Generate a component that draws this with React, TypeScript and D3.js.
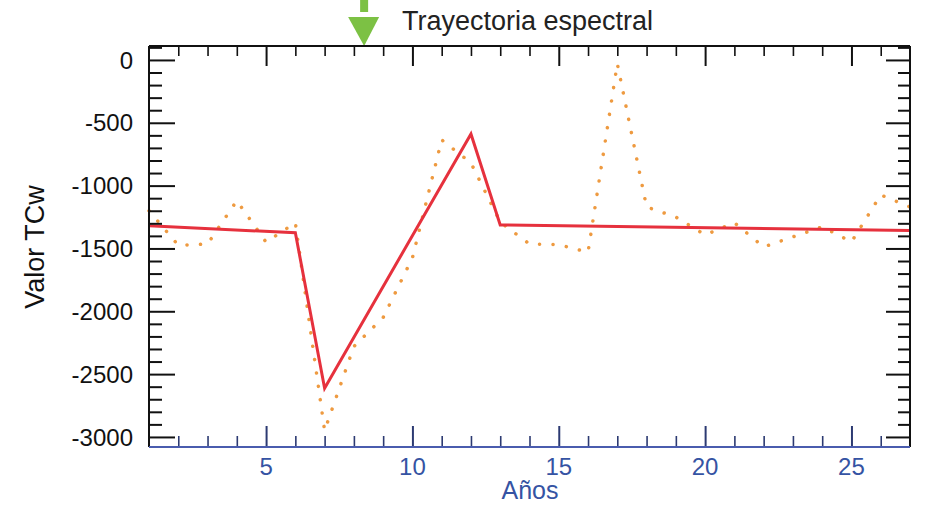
import * as d3 from "d3";
import { useEffect, useRef } from "react";

// yearly TCw values (dotted orange) and the fitted segments (red)
const years = [1, 2, 3, 4, 5, 6, 7, 8, 9, 10, 11, 12, 13, 14, 15, 16, 17, 18, 19, 20, 21, 22, 23, 24, 25, 26, 27];
const tcwYearly = [
  -1200, -1475, -1465, -1120, -1450, -1295, -2950, -2280, -2050, -1575, -636, -820, -1290,
  -1465, -1470, -1530, -30, -1170, -1250, -1392, -1295, -1488, -1408, -1328, -1448, -1074, -1170,
];
const fitYears = [1, 6, 7, 12, 13, 27];
const fitValues = [-1320, -1375, -2612, -589, -1313, -1358];

const xTickLabels = [5, 10, 15, 20, 25];
const yTickLabels = [0, -500, -1000, -1500, -2000, -2500, -3000];
const arrowYear = 8.35;

const W = 925;
const H = 506;
const left = 149;
const right = 910;
const top = 46;
const bottom = 447;

const blue = "#3553a3";
const navy = "#2c3a72";

export default function App() {
  const leftRef = useRef<SVGGElement>(null);
  const rightRef = useRef<SVGGElement>(null);
  const topRef = useRef<SVGGElement>(null);
  const bottomRef = useRef<SVGGElement>(null);

  const x = d3.scaleLinear([1, 27], [left, right]);
  const y = d3.scaleLinear([-3080, 111], [bottom, top]);

  const yMinor = d3.range(-3000, 101, 100).filter((v) => v % 500 !== 0);
  const xMinor = d3.range(2, 27).filter((v) => v % 5 !== 0);

  useEffect(() => {
    // draw a set of ticks with a d3 axis, no labels, no domain line
    function ticks(ref, axis, values, size, color, width) {
      const g = d3.select(ref.current);
      const sub = g.append("g");
      sub.call(axis.tickValues(values).tickSize(size).tickFormat(() => ""));
      sub.select(".domain").remove();
      sub.selectAll("line").attr("stroke", color).attr("stroke-width", width);
    }
    [leftRef, rightRef, topRef, bottomRef].forEach((r) => d3.select(r.current).selectAll("*").remove());

    ticks(leftRef, d3.axisRight(y), yTickLabels, 26, "#111", 2);
    ticks(leftRef, d3.axisRight(y), yMinor, 13, "#111", 2);
    ticks(rightRef, d3.axisLeft(y), yTickLabels, 24, "#111", 2);
    ticks(rightRef, d3.axisLeft(y), yMinor, 12, "#111", 2);
    ticks(topRef, d3.axisBottom(x), xTickLabels, 20, "#111", 2);
    ticks(topRef, d3.axisBottom(x), xMinor, 10, "#111", 1.6);
    ticks(bottomRef, d3.axisTop(x), xTickLabels, 21, navy, 2);
    ticks(bottomRef, d3.axisTop(x), xMinor, 11, navy, 1.6);
  }, []);

  const line = d3.line<number>().x((d, i) => x(years[i])).y((d) => y(d));
  const fitLine = d3.line<number>().x((d, i) => x(fitYears[i])).y((d) => y(d));

  const ax = x(arrowYear);

  return (
    <svg
      width={W}
      height={H}
      style={{ position: "absolute", left: 0, top: 0, background: "#fff" }}
      fontFamily="'Liberation Sans', Arial, sans-serif"
    >
      {/* title + green arrow */}
      <rect x={ax - 4} y={0} width={8} height={12} fill="#7cc144" />
      <path d={`M${ax - 16},17 L${ax + 15},17 L${ax},46 Z`} fill="#7cc144" />
      <text x={402} y={30} fontSize={27} fill="#222">Trayectoria espectral</text>

      {/* data */}
      <path
        d={line(tcwYearly)!}
        fill="none"
        stroke="#ee9a40"
        strokeWidth={3.5}
        strokeDasharray="0.1 13.4"
        strokeLinecap="round"
      />
      <path d={fitLine(fitValues)!} fill="none" stroke="#e6313d" strokeWidth={3} strokeLinejoin="miter" />

      {/* ticks */}
      <g ref={leftRef} transform={`translate(${left},0)`} />
      <g ref={rightRef} transform={`translate(${right},0)`} />
      <g ref={topRef} transform={`translate(0,${top})`} />
      <g ref={bottomRef} transform={`translate(0,${bottom})`} />

      {/* frame */}
      <line x1={left} x2={left} y1={top} y2={bottom} stroke="#111" strokeWidth={2} />
      <line x1={right} x2={right} y1={top} y2={bottom} stroke="#111" strokeWidth={2} />
      <line x1={left} x2={right} y1={top} y2={top} stroke="#111" strokeWidth={2} />
      <line x1={left} x2={right} y1={bottom} y2={bottom} stroke="#4a5cae" strokeWidth={2} />

      {/* tick labels */}
      {yTickLabels.map((v) => (
        <text key={v} x={133} y={y(v)} dy="0.36em" textAnchor="end" fontSize={24} fill="#111">
          {v}
        </text>
      ))}
      {xTickLabels.map((v) => (
        <text key={v} x={x(v)} y={475} textAnchor="middle" fontSize={24} fill={blue}>
          {v}
        </text>
      ))}

      {/* axis titles */}
      <text transform="translate(44,247) rotate(-90)" textAnchor="middle" fontSize={27} fill="#111">
        Valor TCw
      </text>
      <text x={530} y={499} textAnchor="middle" fontSize={25} fill={blue}>
        Años
      </text>
    </svg>
  );
}
